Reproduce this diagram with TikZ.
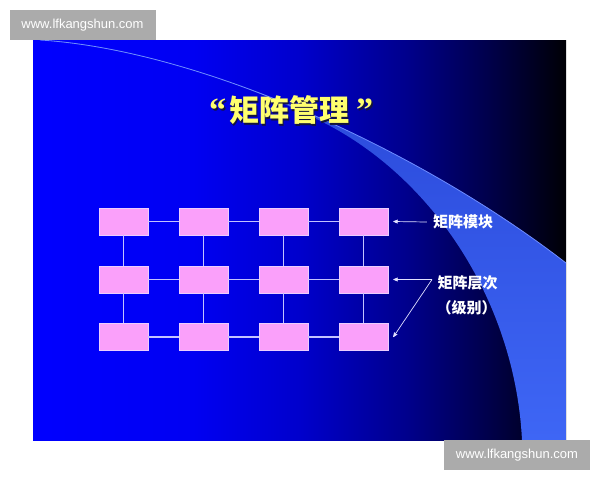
\documentclass[tikz,border=0pt]{standalone}
\usepackage{fontspec}
\setmainfont{Liberation Sans}
\newfontfamily\cjk{Noto Sans CJK SC}
\newfontfamily\qfont{Liberation Serif}
\usepackage{tikz}
\usetikzlibrary{arrows,positioning}
\pgfdeclarehorizontalshading{slidegrad}{100bp}{rgb(0bp)=(0,0,1); rgb(25bp)=(0,0,1);
  rgb(40bp)=(0,0,0.95); rgb(50bp)=(0,0,0.8); rgb(60bp)=(0,0,0.55); rgb(67.5bp)=(0,0,0.3);
  rgb(75bp)=(0,0,0.02); rgb(100bp)=(0,0,0.02)}
\definecolor{swoosh}{RGB}{62,102,245}
\definecolor{swooshtop}{RGB}{40,70,215}
\definecolor{swooshline}{RGB}{110,140,255}
\definecolor{boxpink}{RGB}{250,160,250}
\definecolor{boxedge}{RGB}{235,205,255}
\definecolor{linkblue}{RGB}{195,195,255}
\definecolor{ptrwhite}{RGB}{225,225,255}
\definecolor{titleyellow}{RGB}{255,255,110}
\definecolor{titleshadow}{RGB}{20,20,60}
\definecolor{markgray}{RGB}{171,171,171}
\tikzstyle{mb}=[rectangle, fill=boxpink, draw=boxedge, line width=0.6pt, minimum width=49pt, minimum height=27pt, inner sep=0pt]
\tikzstyle{link}=[linkblue, line width=1.2pt]
\tikzstyle{lbl}=[text=white, font=\cjk\bfseries\fontsize{15}{18}\selectfont, inner sep=0pt]
\tikzstyle{ptr}=[ptrwhite, line width=0.7pt, -stealth']
\tikzstyle{ttl}=[font=\cjk\bfseries\fontsize{30}{34}\selectfont, inner sep=0pt]
\tikzstyle{wm}=[fill=markgray, text=white, font=\fontsize{13}{15}\selectfont, minimum width=146pt, minimum height=30pt, inner sep=0pt]
\newcommand{\ttltext}{{\qfont\bfseries\fontsize{34}{34}\selectfont “}\hspace{3pt}矩阵管理\hspace{7pt}{\qfont\bfseries\fontsize{34}{34}\selectfont ”}}

\begin{document}
\begin{tikzpicture}
[x=1pt, y=-1pt, node distance=80pt]
 \useasboundingbox (0,0) rectangle (600,480);
 \shade[shading=slidegrad] (33,40) rectangle (566,440);
 \begin{scope}
  \clip (33,40) rectangle (566,440);
  \shade[top color=swooshtop, bottom color=swoosh] (40,40) .. controls (200,50) and (420,150) .. (566,263) -- (566,440) -- (522,440)
    .. controls (515,300) and (430,170) .. (310,116) .. controls (220,72) and (120,46) .. (40,40) -- cycle;
  \draw[swooshline, line width=0.8pt] (40,40) .. controls (200,50) and (420,150) .. (566,263);
 \end{scope}
 \node[ttl, text=titleshadow] (tshadow) at (292.5,112) {\ttltext};
 \node[ttl, text=titleyellow] (title) at (291,110.5) {\ttltext};
 \node[mb] (a1) at (123.5,221.5) {};
 \node[mb] (a2) [right of=a1] {};
 \node[mb] (a3) [right of=a2] {};
 \node[mb] (a4) [right of=a3] {};
 \node[mb] (b1) [below of=a1, node distance=58pt] {};
 \node[mb] (b2) [right of=b1] {};
 \node[mb] (b3) [right of=b2] {};
 \node[mb] (b4) [right of=b3] {};
 \node[mb] (c1) [below of=b1, node distance=57.5pt] {};
 \node[mb] (c2) [right of=c1] {};
 \node[mb] (c3) [right of=c2] {};
 \node[mb] (c4) [right of=c3] {};
 \path[link]
   (a1) edge (a2) (a2) edge (a3) (a3) edge (a4)
   (b1) edge (b2) (b2) edge (b3) (b3) edge (b4)
   (c1) edge (c2) (c2) edge (c3) (c3) edge (c4)
   (a1) edge (b1) (a2) edge (b2) (a3) edge (b3) (a4) edge (b4)
   (b1) edge (c1) (b2) edge (c2) (b3) edge (c3) (b4) edge (c4);
 \node[lbl] (lmod) at (463,222) {矩阵模块};
 \node[lbl] (llev) at (467.5,283) {矩阵层次};
 \node[lbl] (lgrade) [below=10pt of llev, xshift=-1pt] {（级别）};
 \coordinate (fork) at (432,279.5);
 \draw[ptr] ([xshift=-6pt]lmod.west) -- ([xshift=5pt]a4.east);
 \draw[ptr] (fork) -- ([xshift=5pt]b4.east);
 \draw[ptr] (fork) -- ([xshift=5pt]c4.east);
 \node[wm] (wtop) at (82.5,25) {www.lfkangshun.com};
 \node[wm] (wbot) at (517,455) {www.lfkangshun.com};
\end{tikzpicture}
\end{document}
